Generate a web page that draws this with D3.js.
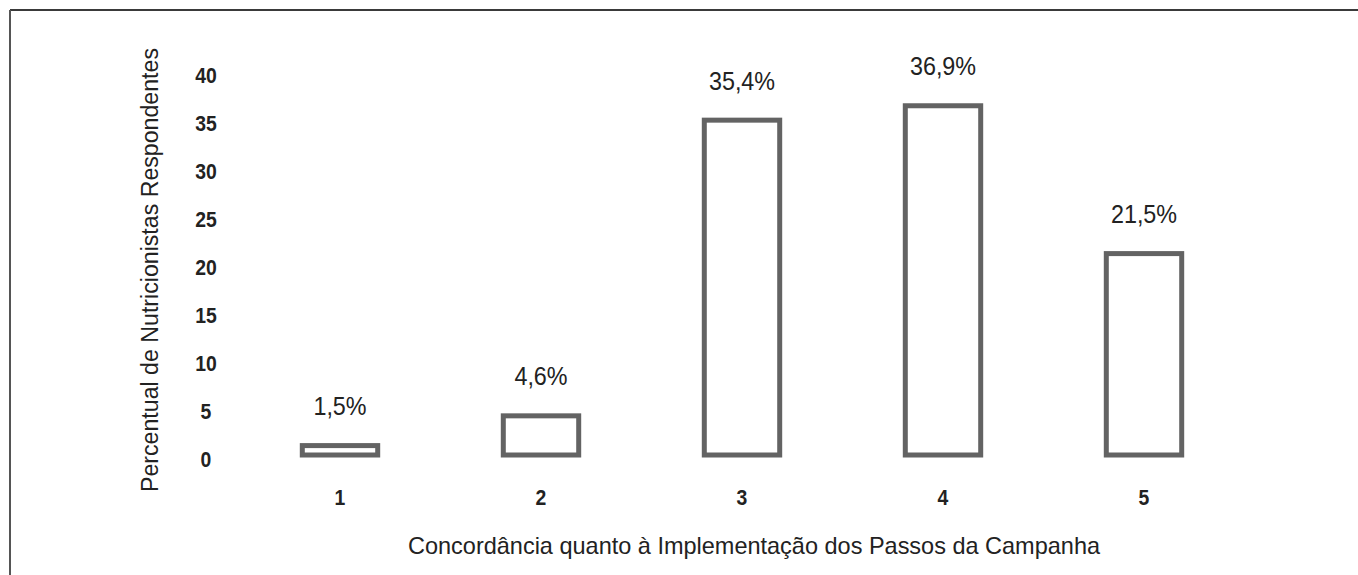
<!DOCTYPE html>
<html>
<head>
<meta charset="utf-8">
<script src="https://cdn.jsdelivr.net/npm/d3@7"></script>
<style>
  body { margin: 0; background: #fff; }
  svg { display: block; }
  text { font-family: "Liberation Sans", Arial, sans-serif; fill: #222; }
</style>
</head>
<body>
<div id="chart"></div>
<script>
// data
var categories = ["1", "2", "3", "4", "5"];
var percents = [1.5, 4.6, 35.4, 36.9, 21.5];
var valueLabels = ["1,5%", "4,6%", "35,4%", "36,9%", "21,5%"];
var yTicks = [0, 5, 10, 15, 20, 25, 30, 35, 40];
var xTitle = "Concordância quanto à Implementação dos Passos da Campanha";
var yTitle = "Percentual de Nutricionistas Respondentes";

var W = 1358, H = 575;

var svg = d3.select("#chart")
  .append("svg")
  .attr("width", W)
  .attr("height", H);

// frame (top + left only, rest is cropped)
svg.append("line")
  .attr("x1", 10).attr("y1", 10).attr("x2", W).attr("y2", 10)
  .attr("stroke", "#3a3a3a").attr("stroke-width", 2);
svg.append("line")
  .attr("x1", 10).attr("y1", 10).attr("x2", 10).attr("y2", H)
  .attr("stroke", "#555").attr("stroke-width", 2);

var x = d3.scaleBand()
  .domain(categories)
  .range([239.5, 1244.5])
  .paddingInner(0.6)
  .paddingOuter(0.3);

var y = d3.scaleLinear()
  .domain([0, 40])
  .range([457.5, 73.5]);

// Y axis labels (condensed look)
var yAxis = svg.append("g")
  .attr("transform", "translate(206,2)")
  .call(d3.axisLeft(y).tickValues(yTicks).tickSize(0).tickPadding(0));
yAxis.select(".domain").remove();
yAxis.selectAll("text")
  .attr("x", 0)
  .attr("text-anchor", "middle")
  .attr("transform", "scale(0.88,1)")
  .style("font-size", "22px")
  .style("font-weight", "bold");

// X axis labels
var xAxis = svg.append("g")
  .attr("transform", "translate(0,481)")
  .call(d3.axisBottom(x).tickSize(0).tickPadding(8));
xAxis.select(".domain").remove();
xAxis.selectAll("text")
  .attr("transform", "scale(0.88,1)")
  .style("font-size", "22px")
  .style("font-weight", "bold");
svg.selectAll(".tick text").attr("fill", "#222");
svg.selectAll(".tick").attr("font-family", null);

// Bars (stroke kept inside the bar extent)
var sw = 5;
svg.selectAll("rect.bar")
  .data(percents)
  .enter()
  .append("rect")
  .attr("class", "bar")
  .attr("x", function (d, i) { return x(categories[i]) + sw / 2; })
  .attr("width", x.bandwidth() - sw)
  .attr("y", function (d) { return y(d) + sw / 2; })
  .attr("height", function (d) { return y(0) - y(d) - sw; })
  .attr("fill", "#fff")
  .attr("stroke", "#636363")
  .attr("stroke-width", sw);

// value labels
svg.selectAll("g.val")
  .data(percents)
  .enter()
  .append("g")
  .attr("class", "val")
  .attr("transform", function (d, i) {
    return "translate(" + (x(categories[i]) + x.bandwidth() / 2) + "," + (y(d) - 28) + ")";
  })
  .append("text")
  .attr("text-anchor", "middle")
  .attr("transform", "scale(0.88,1)")
  .style("font-size", "26.5px")
  .text(function (d, i) { return valueLabels[i]; });

// axis titles
svg.append("text")
  .attr("x", 754)
  .attr("y", 554)
  .attr("text-anchor", "middle")
  .attr("textLength", 692)
  .attr("lengthAdjust", "spacingAndGlyphs")
  .style("font-size", "24px")
  .text(xTitle);

svg.append("text")
  .attr("transform", "translate(158,270) rotate(-90)")
  .attr("text-anchor", "middle")
  .attr("textLength", 444)
  .attr("lengthAdjust", "spacingAndGlyphs")
  .style("font-size", "23.5px")
  .text(yTitle);
</script>
</body>
</html>
